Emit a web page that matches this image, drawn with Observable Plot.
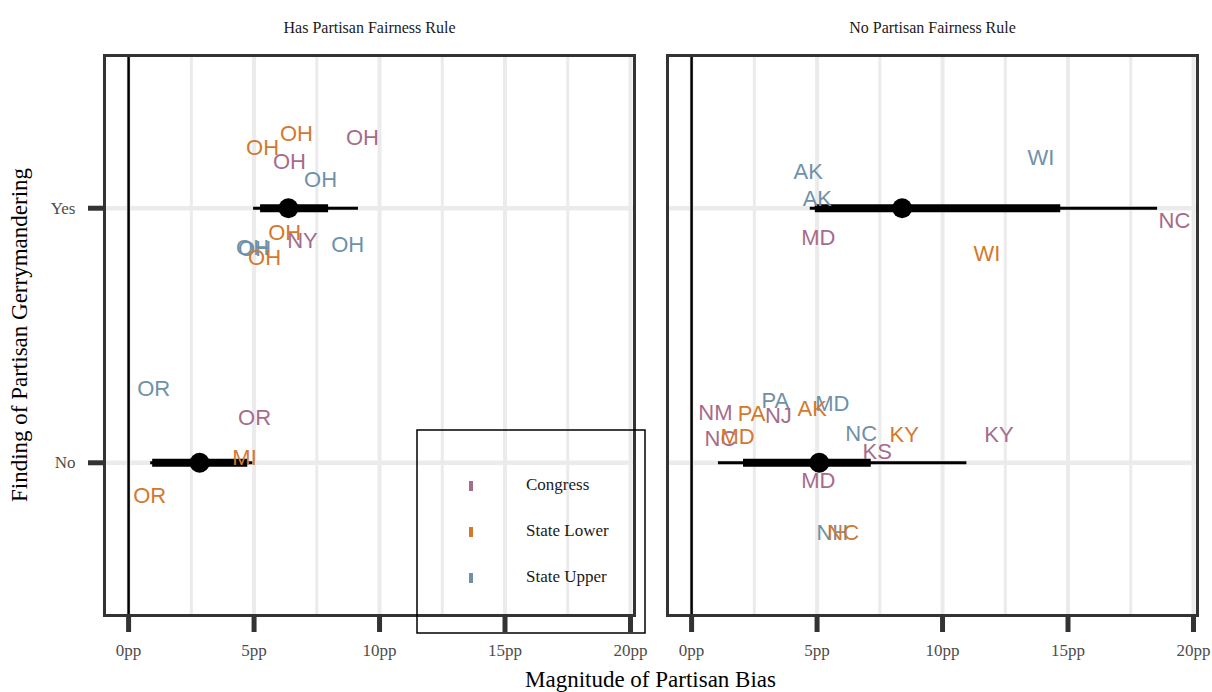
<!DOCTYPE html>
<html>
<head>
<meta charset="utf-8">
<script src="https://cdn.jsdelivr.net/npm/d3@7"></script>
<script src="https://cdn.jsdelivr.net/npm/@observablehq/plot@0.6"></script>
<style>
  html, body { margin: 0; padding: 0; background: #fff; }
  #chart { position: relative; width: 1212px; height: 692px; }
</style>
</head>
<body>
<div id="chart"></div>
<script>
// ---- categories ----
const panels = ["Has Partisan Fairness Rule", "No Partisan Fairness Rule"];
const chambers = ["Congress", "State Lower", "State Upper"];
const chamberColors = ["#A66C8B", "#D3792E", "#6F91A8"];
const findingLevels = ["No", "Yes"];
const xTicks = [0, 5, 10, 15, 20];
const xTickLabels = ["0pp", "5pp", "10pp", "15pp", "20pp"];

// ---- state labels (jittered) ----
const labelPanel = [0,0,0,0,0,0,0,0,0,0,0,0,0,0,0,
                    1,1,1,1,1,1,1,1,1,1,1,1,1,1,1,1,1,1,1,1,1];
const labelState = ["OH","OH","OH","OH","OH","OH","NY","OH","OH","OH","OH","OR","OR","MI","OR",
                    "WI","AK","AK","NC","MD","WI","PA","MD","AK","NM","PA","NJ","NC","KY","KY","NC","MD","KS","MD","NH","NC"];
const labelChamber = ["State Lower","Congress","State Lower","Congress","State Upper","State Lower","Congress","State Upper","State Upper","State Upper","State Lower","State Upper","Congress","State Lower","State Lower",
                      "State Upper","State Upper","State Upper","Congress","Congress","State Lower","State Upper","State Upper","State Lower","Congress","State Lower","Congress","State Upper","State Lower","Congress","Congress","State Lower","Congress","Congress","State Upper","State Lower"];
const labelFinding = ["Yes","Yes","Yes","Yes","Yes","Yes","Yes","Yes","Yes","Yes","Yes","No","No","No","No",
                      "Yes","Yes","Yes","Yes","Yes","Yes","No","No","No","No","No","No","No","No","No","No","No","No","No","No","No"];
const labelBias = [6.69, 9.32, 5.34, 6.41, 7.65, 6.22, 6.93, 8.73, 4.94, 5.02, 5.42, 1.00, 5.02, 4.62, 0.84,
                   13.92, 4.65, 5.01, 19.24, 5.05, 11.77, 3.34, 5.61, 4.81, 0.95, 2.39, 3.46, 6.76, 8.47, 12.25, 1.15, 1.83, 7.40, 5.05, 5.61, 6.04];
const labelJitter = [0.29, 0.275, 0.235, 0.18, 0.11, -0.096, -0.128, -0.143, -0.155, -0.159, -0.194, 0.291, 0.177, 0.02, -0.13,
                     0.198, 0.143, 0.037, -0.049, -0.116, -0.179, 0.244, 0.232, 0.212, 0.196, 0.193, 0.185, 0.114, 0.11, 0.11, 0.094, 0.102, 0.043, -0.071, -0.275, -0.275];

// ---- point intervals (median, 66% and 95%) ----
const ivPanel   = [0, 0, 1, 1];
const ivFinding = ["Yes", "No", "Yes", "No"];
const ivMedian  = [6.37, 2.83, 8.39, 5.09];
const ivLo66    = [5.26, 0.96, 4.93, 2.07];
const ivHi66    = [7.97, 4.75, 14.71, 7.16];
const ivLo95    = [4.98, 0.88, 4.73, 1.07];
const ivHi95    = [9.16, 4.95, 18.57, 10.97];

// ---- build tables ----
const yOf = f => findingLevels.indexOf(f) + 1;
const labels = labelState.map((s, i) => ({
  panel: panels[labelPanel[i]], state: s, chamber: labelChamber[i],
  x: labelBias[i], y: yOf(labelFinding[i]) + labelJitter[i]
}));
const intervals = ivMedian.map((m, i) => ({
  panel: panels[ivPanel[i]], y: yOf(ivFinding[i]), median: m,
  lo66: ivLo66[i], hi66: ivHi66[i], lo95: ivLo95[i], hi95: ivHi95[i]
}));

const serif = "'Liberation Serif', 'DejaVu Serif', serif";
const sans = "'Liberation Sans', Arial, sans-serif";

const W = 1212, H = 692;
const plot = Plot.plot({
  width: W, height: H,
  marginLeft: 104, marginRight: 15, marginTop: 55, marginBottom: 77,
  style: { fontFamily: serif, background: "#fff" },
  fx: { domain: panels, paddingInner: 33 / 563, paddingOuter: 0, round: false, axis: null, label: null },
  x: { domain: [-0.96, 20.16] },
  y: { domain: [0.4, 2.6] },
  color: { domain: chambers, range: chamberColors },
  marks: [
    Plot.gridX(d3.range(2.5, 20, 5), { stroke: "#EBEBEB", strokeOpacity: 1, strokeWidth: 3 }),
    Plot.gridX(xTicks, { stroke: "#EBEBEB", strokeOpacity: 1, strokeWidth: 4 }),
    Plot.gridY([1, 2], { stroke: "#EBEBEB", strokeOpacity: 1, strokeWidth: 4.5 }),
    Plot.ruleX([0], { stroke: "#000", strokeWidth: 2.5 }),
    Plot.ruleY(intervals, { fx: "panel", y: "y", x1: "lo95", x2: "hi95", stroke: "#000", strokeWidth: 3 }),
    Plot.ruleY(intervals, { fx: "panel", y: "y", x1: "lo66", x2: "hi66", stroke: "#000", strokeWidth: 8 }),
    Plot.dot(intervals, { fx: "panel", y: "y", x: "median", r: 10, fill: "#000", stroke: null }),
    Plot.text(labels, { fx: "panel", x: "x", y: "y", text: "state", fill: "chamber",
      fontSize: 22, fontFamily: sans }),
    Plot.text(panels, { fx: d => d, text: d => d, frameAnchor: "top", dy: -34,
      fontSize: 16, fill: "#1A1A1A", fontFamily: serif }),
    Plot.frame({ stroke: "#333", strokeWidth: 3 }),
    Plot.axisX({ ticks: xTicks, tickFormat: d => xTickLabels[xTicks.indexOf(d)], tickSize: 17, tickPadding: 11,
      stroke: "#333", strokeWidth: 5, fill: "#4D4D4D", fontSize: 17, label: null }),
    Plot.axisY({ ticks: [1, 2], tickFormat: d => findingLevels[d - 1], tickSize: 16, tickPadding: 13,
      stroke: "#333", strokeWidth: 5, fill: "#4D4D4D", fontSize: 17, label: null })
  ]
});

document.getElementById("chart").appendChild(plot);

// axis titles and legend
const svg = d3.select(plot);
svg.append("text")
  .attr("x", (104 + 1197) / 2).attr("y", 682)
  .attr("text-anchor", "middle").attr("dominant-baseline", "middle")
  .attr("font-family", serif).attr("font-size", 23).attr("fill", "#000")
  .text("Magnitude of Partisan Bias");
svg.append("text")
  .attr("transform", `translate(22,${(55 + 615) / 2}) rotate(-90)`)
  .attr("text-anchor", "middle").attr("dominant-baseline", "middle")
  .attr("font-family", serif).attr("font-size", 23).attr("fill", "#000")
  .text("Finding of Partisan Gerrymandering");

const lg = svg.append("g");
lg.append("rect").attr("x", 417).attr("y", 430).attr("width", 228).attr("height", 203)
  .attr("fill", "none").attr("stroke", "#000").attr("stroke-width", 1.5);
chambers.forEach((c, i) => {
  const cy = 486 + i * 46;
  lg.append("rect").attr("x", 469).attr("y", cy - 5).attr("width", 4).attr("height", 10)
    .attr("fill", chamberColors[i]);
  lg.append("text").attr("x", 526).attr("y", cy)
    .attr("text-anchor", "start").attr("dominant-baseline", "middle")
    .attr("font-family", serif).attr("font-size", 17).attr("fill", "#1A1A1A")
    .text(c);
});
</script>
</body>
</html>
